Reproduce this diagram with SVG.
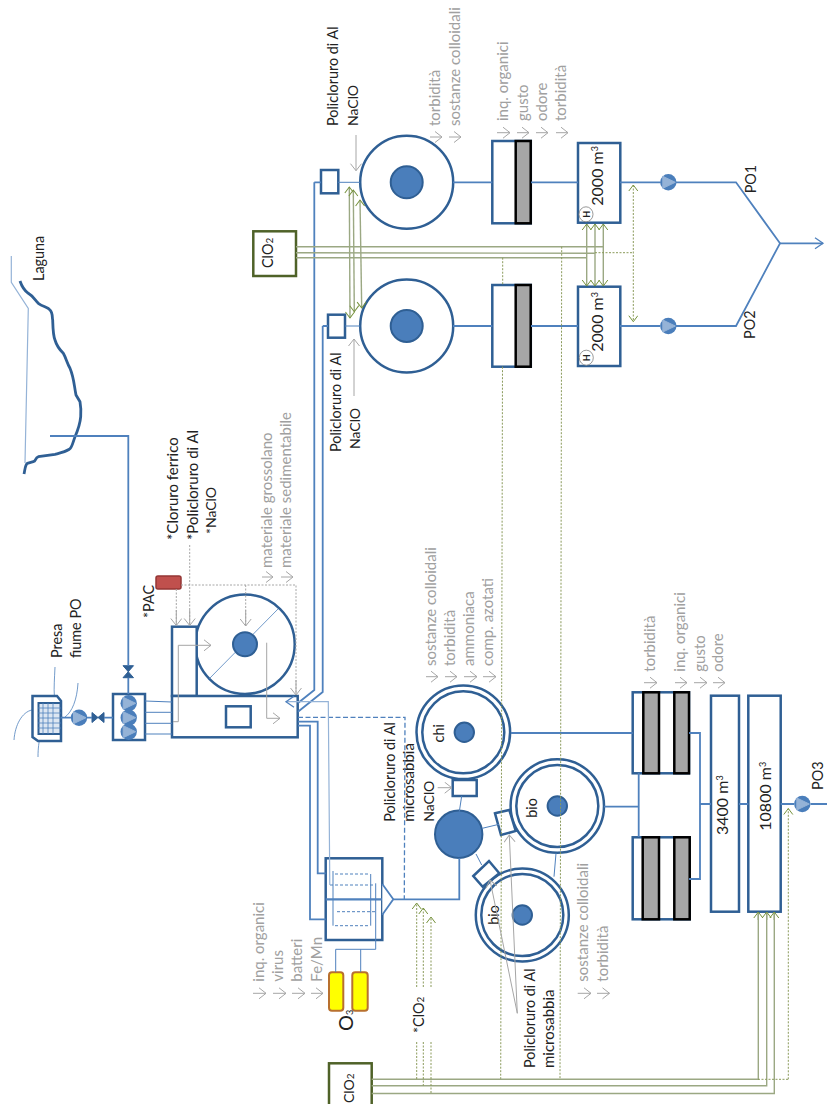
<svg xmlns="http://www.w3.org/2000/svg" xmlns:xlink="http://www.w3.org/1999/xlink" width="827" height="1104" viewBox="0 0 827 1104">
<style>
text{font-family:Lato,"Open Sans","Liberation Sans",sans-serif;font-size:14.4px;fill:#222}
.g{fill:#a0a0a0;font-size:15px}
.w{font-size:15px}
.v{font-size:16px}
.n{font-size:14px}
.e{stroke:#2f5f94;stroke-width:2.5;fill:#fff}
.d{fill:#4a7ebb;stroke:#2f5f94;stroke-width:2}
.k{fill:#a6a6a6;stroke:#000;stroke-width:2.5}
.p{fill:none;stroke:#4f81bd;stroke-width:1.8}
.t{fill:none;stroke:#4f81bd;stroke-width:1}
.l{fill:none;stroke:#95b3d7;stroke-width:1.2}
.a{fill:none;stroke:#a6a6a6;stroke-width:1;marker-end:url(#ga)}
.dg{fill:none;stroke:#a6a6a6;stroke-width:1;stroke-dasharray:2 1.5}
.o{fill:none;stroke:#9ba883;stroke-width:1.4}
.od{fill:none;stroke:#8a9a5b;stroke-width:1;stroke-dasharray:2 1.5}
</style>
<defs>
<marker id="ga" markerUnits="userSpaceOnUse" markerWidth="14" markerHeight="14" refX="10" refY="6" orient="auto"><path d="M3,0.5 L10,6 L3,11.5" fill="none" stroke="#a6a6a6" stroke-width="1"/></marker>
<marker id="oa" markerUnits="userSpaceOnUse" markerWidth="14" markerHeight="14" refX="8" refY="5" orient="auto-start-reverse"><path d="M2,0.5 L8,5 L2,9.5" fill="none" stroke="#76923c" stroke-width="1"/></marker>
<marker id="ba" markerUnits="userSpaceOnUse" markerWidth="14" markerHeight="14" refX="10" refY="6" orient="auto"><path d="M2,0.5 L10,6 L2,11.5" fill="none" stroke="#4f81bd" stroke-width="1.3"/></marker>
<g id="pump"><circle r="8.2" fill="#4a7ebb"/><path d="M-5.5,-6 L7,0 L-5.5,6 Z" fill="#95b3d7" stroke="#95b3d7"/></g>
</defs>

<g id="laguna">
<path fill="none" stroke="#2f5f94" stroke-width="2.8" stroke-linejoin="round" d="M20,281 C22,287 25,291 28.3,293.3 C33,296 35,300 38.3,303.3 C43,307 48,307 50,310 C53,313 52,318 52.7,320 C53,330 53,335 55,340 C57,347 60,350 63.3,353.3 C66,358 67,363 70,368.3 C74,378 74,385 76,395 L80,401.7 C81,407 81,412 80.7,416.7 C80,425 78,430 75,436.7 C73,442 72,448 69.3,449.3 C65,452 60,453 55,454.3 L38.3,456.7 C35,458 36,461 33.3,461.7 L27.3,463.3 C25,465 25,470 24,474"/>
<path class="l" d="M11.3,256 V282.3 L28.3,308.3 L25,463"/>
<text transform="translate(44,281) rotate(-90)">Laguna</text>
</g>

<g id="presa">
<path fill="none" stroke="#4f81bd" stroke-width="0.8" d="M55,667 C54,690 52,705 62,717 M78,683 C77,700 72,712 65,717 M14,740 C15,725 22,712 32,710 M38,757 C38,748 39,742 40,737"/>
<path class="e" d="M32.5,696 H57 L61,701 V741 H38 L32.5,737 Z"/>
<rect x="38.5" y="703" width="22" height="31" fill="#dce6f2" stroke="#2f5f94" stroke-width="2"/>
<path d="M43,703 V734 M48,703 V734 M53,703 V734 M38,708 H61 M38,713 H61 M38,718 H61 M38,723 H61 M38,728 H61" stroke="#4f81bd" stroke-width="0.8"/>
<use xlink:href="#pump" x="79" y="717.7"/>
<path d="M92,712.5 L104,722.5 V712.5 L92,722.5 Z" fill="#2f5f94" stroke="#2f5f94"/>
<path d="M123,665.7 L133.5,677.7 H123 L133.5,665.7 Z" fill="#2f5f94" stroke="#2f5f94"/>
<text transform="translate(62,658) rotate(-90)">Presa</text>
<text transform="translate(81,658) rotate(-90)">fiume PO</text>
</g>

<g id="griglie">
<rect class="e" x="113" y="694" width="32" height="46"/>
<use xlink:href="#pump" x="128.7" y="703.3"/><use xlink:href="#pump" x="128.7" y="717.7"/><use xlink:href="#pump" x="128.7" y="731.7"/>
</g>

<g id="sedimentatore">
<circle class="e" cx="245" cy="644.3" r="49.7"/>
<path stroke="#4f81bd" stroke-width="0.8" d="M208,680 L278,609"/>
<circle class="d" cx="245" cy="644.3" r="12"/>
<rect class="e" x="172" y="626.7" width="24.7" height="69.3"/>
<rect class="e" x="172" y="696" width="125.7" height="41.3"/>
<rect class="e" x="226" y="706.3" width="24.7" height="21"/>
<rect x="156" y="576" width="25" height="13" rx="2" fill="#c0504d" stroke="#943634" stroke-width="1.5"/>
<text transform="translate(154,618) rotate(-90)">*PAC</text>
<text class="w" transform="translate(178,540) rotate(-90)">*Cloruro ferrico</text>
<text class="w" transform="translate(198,540) rotate(-90)">*Policloruro di Al</text>
<text class="n" transform="translate(216,534) rotate(-90)">*NaClO</text>
<text class="g" transform="translate(272,568) rotate(-90)">materiale grossolano</text>
<text class="g" transform="translate(291,568) rotate(-90)">materiale sedimentabile</text>
</g>

<g id="clo2-a">
<rect x="253.3" y="231.3" width="42.7" height="44.7" fill="#fff" stroke="#4f6228" stroke-width="2.5"/>
<text transform="translate(273,268) rotate(-90)">ClO<tspan font-size="10">2</tspan></text>
</g>

<g id="chiarificatore-1">
<rect class="e" x="321" y="170" width="17.3" height="23.3"/>
<circle class="e" cx="406.7" cy="182.3" r="46.5"/>
<circle class="d" cx="406.7" cy="182.3" r="16"/>
<text transform="translate(338,126) rotate(-90)">Policloruro di Al</text>
<text class="n" transform="translate(358,126) rotate(-90)">NaClO</text>
<text class="g" transform="translate(440,126) rotate(-90)">torbidità</text>
<text class="g" transform="translate(460,126) rotate(-90)">sostanze colloidali</text>
</g>

<g id="chiarificatore-2">
<rect class="e" x="328" y="314.7" width="17" height="23"/>
<circle class="e" cx="406.7" cy="326" r="46.5"/>
<circle class="d" cx="406.7" cy="326" r="16"/>
<text transform="translate(341,452) rotate(-90)">Policloruro di Al</text>
<text class="n" transform="translate(360,449) rotate(-90)">NaClO</text>
</g>

<g id="filtro-1">
<rect class="e" x="492.3" y="141" width="38.5" height="82.3"/>
<rect class="k" x="515.7" y="141" width="15" height="82.3"/>
<text class="g" transform="translate(508.3,121) rotate(-90)">inq. organici</text>
<text class="g" transform="translate(528.3,121) rotate(-90)">gusto</text>
<text class="g" transform="translate(546.7,121) rotate(-90)">odore</text>
<text class="g" transform="translate(566,121) rotate(-90)">torbidità</text>
</g>

<g id="filtro-2">
<rect class="e" x="492.3" y="285" width="38.5" height="81.7"/>
<rect class="k" x="515.7" y="285" width="15" height="81.7"/>
</g>

<g id="serbatoio-1">
<rect class="e" x="578" y="143" width="42.3" height="79.7"/>
<text class="v" transform="translate(602.7,205.7) rotate(-90)">2000 m<tspan font-size="9" dy="-5">3</tspan></text>
<ellipse cx="586" cy="214.3" rx="7" ry="7.5" fill="#fff" stroke="#7f7f7f" stroke-width="0.8"/>
<text transform="translate(589.5,214.3) rotate(-90)" text-anchor="middle" style="font-size:9px;font-weight:bold">H</text>
</g>

<g id="serbatoio-2">
<rect class="e" x="578" y="286.7" width="42.3" height="79.3"/>
<text class="v" transform="translate(602.7,351.7) rotate(-90)">2000 m<tspan font-size="9" dy="-5">3</tspan></text>
<ellipse cx="586.3" cy="357.7" rx="7" ry="7.5" fill="#fff" stroke="#7f7f7f" stroke-width="0.8"/>
<text transform="translate(589.8,357.7) rotate(-90)" text-anchor="middle" style="font-size:9px;font-weight:bold">H</text>
</g>

<g id="uscita-po">
<use xlink:href="#pump" x="668.3" y="182.3"/>
<use xlink:href="#pump" x="668.3" y="326"/>
<text transform="translate(756,193.3) rotate(-90)">PO1</text>
<text transform="translate(755,339) rotate(-90)">PO2</text>
</g>

<g id="ozono">
<rect class="e" x="325.7" y="858.3" width="56.6" height="81.7"/>
<path d="M325.7,899.3 H382.3" stroke="#4f81bd" stroke-width="2.2"/>
<path fill="none" stroke="#4f81bd" stroke-width="1" stroke-dasharray="3 2" d="M335,874 H370 M330,885 H375 M337,911.7 H375 M335,925.7 H370"/>
<path fill="none" stroke="#4f81bd" stroke-width="1" d="M333,871 V925.7 M370.7,874 V925.7"/>
<path fill="#fff" stroke="#4f81bd" stroke-width="1.8" d="M382.3,884 L393.3,899.3 L382.3,914.7"/>
<rect x="329" y="972.3" width="14.3" height="38.4" rx="3" fill="#ffff00" stroke="#b8702f" stroke-width="2"/>
<rect x="352.3" y="972.3" width="15.4" height="38.4" rx="3" fill="#ffff00" stroke="#b8702f" stroke-width="2"/>
<text transform="translate(352.7,1031) rotate(-90)" style="font-size:20px">O<tspan font-size="9" dy="0.5">3</tspan></text>
<text class="g" transform="translate(264,981.7) rotate(-90)">inq. organici</text>
<text class="g" transform="translate(283.3,981.7) rotate(-90)">virus</text>
<text class="g" transform="translate(302.3,981.7) rotate(-90)">batteri</text>
<text class="g" transform="translate(321.7,981.7) rotate(-90)">Fe/Mn</text>
<text transform="translate(424.3,1033) rotate(-90)">*ClO<tspan font-size="10">2</tspan></text>
</g>

<g id="miscelatore">
<circle class="d" cx="458.7" cy="834.3" r="23.7"/>
<text transform="translate(395,821.7) rotate(-90)">Policloruro di Al</text>
<text class="w" transform="translate(414,821.7) rotate(-90)">microsabbia</text>
<text class="n" transform="translate(433.5,821.7) rotate(-90)">NaClO</text>
</g>

<g id="chi">
<circle class="e" cx="463.3" cy="732.3" r="46.8"/>
<circle class="e" cx="463.3" cy="732.3" r="41"/>
<circle class="d" cx="464.3" cy="732.3" r="9.7"/>
<rect class="e" x="452.7" y="780" width="24" height="16"/>
<text transform="translate(444.3,733.3) rotate(-90)" text-anchor="middle">chi</text>
<text class="g" transform="translate(436,666) rotate(-90)">sostanze colloidali</text>
<text class="g" transform="translate(455,666) rotate(-90)">torbidità</text>
<text class="g" transform="translate(474,666) rotate(-90)">ammoniaca</text>
<text class="g" transform="translate(493,666) rotate(-90)">comp. azotati</text>
</g>

<g id="bio-1">
<circle class="e" cx="557.3" cy="806" r="46.7"/>
<circle class="e" cx="557.3" cy="806" r="41"/>
<circle class="d" cx="557.3" cy="806" r="9.7"/>
<path class="e" d="M495,813.3 L509.3,810 L515.7,831 L501,835 Z"/>
<text transform="translate(536.7,808) rotate(-90)" text-anchor="middle">bio</text>
</g>

<g id="bio-2">
<circle class="e" cx="522.3" cy="915" r="46.5"/>
<circle class="e" cx="522.3" cy="915" r="41"/>
<circle class="d" cx="522.3" cy="915" r="9.7"/>
<path class="e" d="M473.3,876 L489,861 L499.3,873.3 L482.7,886.7 Z"/>
<text transform="translate(499.3,915) rotate(-90)" text-anchor="middle">bio</text>
<text transform="translate(535,1068) rotate(-90)">Policloruro di Al</text>
<text class="w" transform="translate(554,1068) rotate(-90)">microsabbia</text>
<text class="g" transform="translate(588.3,981.7) rotate(-90)">sostanze colloidali</text>
<text class="g" transform="translate(607.7,981.7) rotate(-90)">torbidità</text>
</g>

<g id="filtro-3">
<rect class="e" x="632.7" y="692.3" width="56.3" height="81"/>
<rect class="k" x="643.3" y="692.3" width="15.7" height="81"/>
<rect class="k" x="674.3" y="692.3" width="14.7" height="81"/>
<text class="g" transform="translate(655,671.7) rotate(-90)">torbidità</text>
<text class="g" transform="translate(685,671.7) rotate(-90)">inq. organici</text>
<text class="g" transform="translate(705,671.7) rotate(-90)">gusto</text>
<text class="g" transform="translate(723,671.7) rotate(-90)">odore</text>
</g>

<g id="filtro-4">
<rect class="e" x="632.7" y="837.3" width="57" height="82"/>
<rect class="k" x="642.7" y="837.3" width="16.3" height="82"/>
<rect class="k" x="674.3" y="837.3" width="15.4" height="82"/>
</g>

<g id="serbatoio-3400">
<rect class="e" x="711" y="695.7" width="28" height="216"/>
<text class="v" transform="translate(727.7,835) rotate(-90)">3400 m<tspan font-size="9" dy="-5">3</tspan></text>
</g>

<g id="serbatoio-10800">
<rect class="e" x="748.3" y="695.7" width="32.4" height="216"/>
<text class="v" transform="translate(770.7,830.7) rotate(-90)">10800 m<tspan font-size="9" dy="-5">3</tspan></text>
</g>

<g id="uscita-po3">
<use xlink:href="#pump" x="802.3" y="804"/>
<text transform="translate(823,790) rotate(-90)">PO3</text>
</g>

<g id="clo2-b">
<rect x="329" y="1063.3" width="42.7" height="50" fill="#fff" stroke="#4f6228" stroke-width="2.5"/>
<text transform="translate(354,1103) rotate(-90)" style="font-size:14px">ClO<tspan font-size="10">2</tspan></text>
</g>

<g id="connectors">
<path class="p" d="M50,436 H128.3 V665.7 M128.3,677.7 V694"/>
<path class="p" d="M61,717.7 H71 M87,717.7 H92 M104,717.7 H113"/>
<path class="t" d="M145,701 L172,702 M145,712.3 H172 M145,723.3 H172 M145,734 L172,734"/>
<path class="p" d="M314.3,182.3 H321 M314.3,182.3 V690 L298,703"/>
<path class="p" d="M322.7,326 H328 M322.7,326 V692 L298,711.7"/>
<path class="t" d="M338,182.3 H360 M345,326 H360"/>
<path class="p" d="M298,721.7 H317.7 V873.3 H325.7"/>
<path class="p" d="M298,725.7 H310 V919.3 H325.7"/>
<path fill="none" stroke="#4f81bd" stroke-width="1.3" stroke-dasharray="5 2.5" d="M298,717.3 H405 L404.3,899"/>
<path class="l" d="M329.8,885 L328.3,701.7 H286" marker-end="url(#ba)"/>
<path class="p" d="M393.3,899.3 H459.3 V858"/>
<path class="t" d="M461.7,796 L459.3,811.7 M482.3,828.3 L499,824.3 M476,854 L481.7,865 M556,853.3 L554,876.7"/>
<path class="t" d="M375.7,883.3 V949.3 H335.7 V972 M360.7,949.3 V972"/>
<path class="p" d="M453,182.3 H492.3 M453,326 H492.3 M531,182.3 H578 M531,326 H578"/>
<path class="p" d="M620,182.3 H660 M676,182.3 H736 L780,243.3 L736,326 H676 M660,326 H620"/>
<path class="p" d="M780,243.3 H823" marker-end="url(#ba)"/>
<path class="p" d="M511,733 H632.7 M604,806.7 H638.7 M638.7,773 V837 M689,733 H700 V879 H689 M700,804 H711 M739,804 H748.3 M780.7,804 H794 M810.5,804 H827"/>
<path class="o" d="M296,246.7 H603.3 M296,252.7 L595,253.3 M296,257.7 H586.7"/>
<path class="o" marker-start="url(#oa)" marker-end="url(#oa)" d="M586.7,224 V286"/>
<path class="o" marker-start="url(#oa)" marker-end="url(#oa)" d="M595,224 V286"/>
<path class="o" marker-start="url(#oa)" marker-end="url(#oa)" d="M603.3,224 V286"/>
<path class="o" marker-start="url(#oa)" marker-end="url(#oa)" d="M349.3,187 L350,318"/>
<path class="o" marker-start="url(#oa)" marker-end="url(#oa)" d="M353.3,190 L354.3,311.7"/>
<path class="o" marker-start="url(#oa)" marker-end="url(#oa)" d="M360,200 L361.7,308"/>
<path class="od" d="M561.7,246.7 L560,1079 M502.7,257.7 V285 M502.5,366.7 L500.7,1079 M595,252.7 H633.3"/>
<path class="od" marker-start="url(#oa)" marker-end="url(#oa)" d="M633.3,185 V321.7"/>
<path class="o" d="M371.7,1079.3 H758.3 V912"/>
<path class="o" d="M371.7,1085.7 H766.7 V912"/>
<path class="o" d="M371.7,1093.5 H774.3 V912"/>
<path class="o" marker-end="url(#oa)" d="M758.3,920 V912"/>
<path class="o" marker-end="url(#oa)" d="M766.7,920 V912"/>
<path class="o" marker-end="url(#oa)" d="M774.3,920 V912"/>
<path class="od" d="M758,1079.3 H788.3"/>
<path class="od" marker-end="url(#oa)" d="M788.3,1079.3 V808.5"/>
<path class="od" marker-end="url(#oa)" d="M416.7,987 V903"/>
<path class="od" marker-end="url(#oa)" d="M423.3,987 V908"/>
<path class="od" marker-end="url(#oa)" d="M431,987 V917"/>
<path class="od" d="M416.7,1042 V1079 M423.3,1042 V1085.7 M431,1042 V1093.5"/>
<path class="dg" d="M176.3,589 V625 M189.7,545 V625 M181,585 H296 V695 M245.7,585 V626"/>
<path class="a" d="M176.3,610 V625.5"/>
<path class="a" d="M189.7,610 V625.5"/>
<path class="a" d="M296,680 V695"/>
<path class="a" d="M245.7,610 V626"/>
<path class="a" d="M173,721.7 H178.3 V645.3 H211"/>
<path class="a" d="M266.7,642.7 V718.3 H280"/>
<path class="a" d="M356,135 V170.7"/>
<path class="a" d="M354,396 V339"/>
<path class="a" d="M437.7,787.7 H451.7"/>
<path class="a" d="M517.3,1013.3 L490,880"/>
<path class="a" d="M517.3,1013.3 L509.3,835"/>
<path class="a" d="M262,577 H273"/><path class="a" d="M281,577 H293"/>
<path class="a" d="M430,137 H442"/><path class="a" d="M449,137 H461"/>
<path class="a" d="M497,132.7 H510"/><path class="a" d="M517,132.7 H529"/><path class="a" d="M536,132.7 H548"/><path class="a" d="M556,132.7 H568"/>
<path class="a" d="M426,676.7 H438"/><path class="a" d="M445,676.7 H457"/><path class="a" d="M464,676.7 H477"/><path class="a" d="M483,676.7 H496"/>
<path class="a" d="M644,682.7 H657"/><path class="a" d="M675,682.7 H687"/><path class="a" d="M694,682.7 H707"/><path class="a" d="M713,682.7 H725"/>
<path class="a" d="M577.7,993.3 H591"/><path class="a" d="M597,993.3 H609.5"/>
<path class="a" d="M253,993.3 H266"/><path class="a" d="M273,993.3 H286"/><path class="a" d="M292,993.3 H305"/><path class="a" d="M311,993.3 H323"/>
</g>
</svg>
